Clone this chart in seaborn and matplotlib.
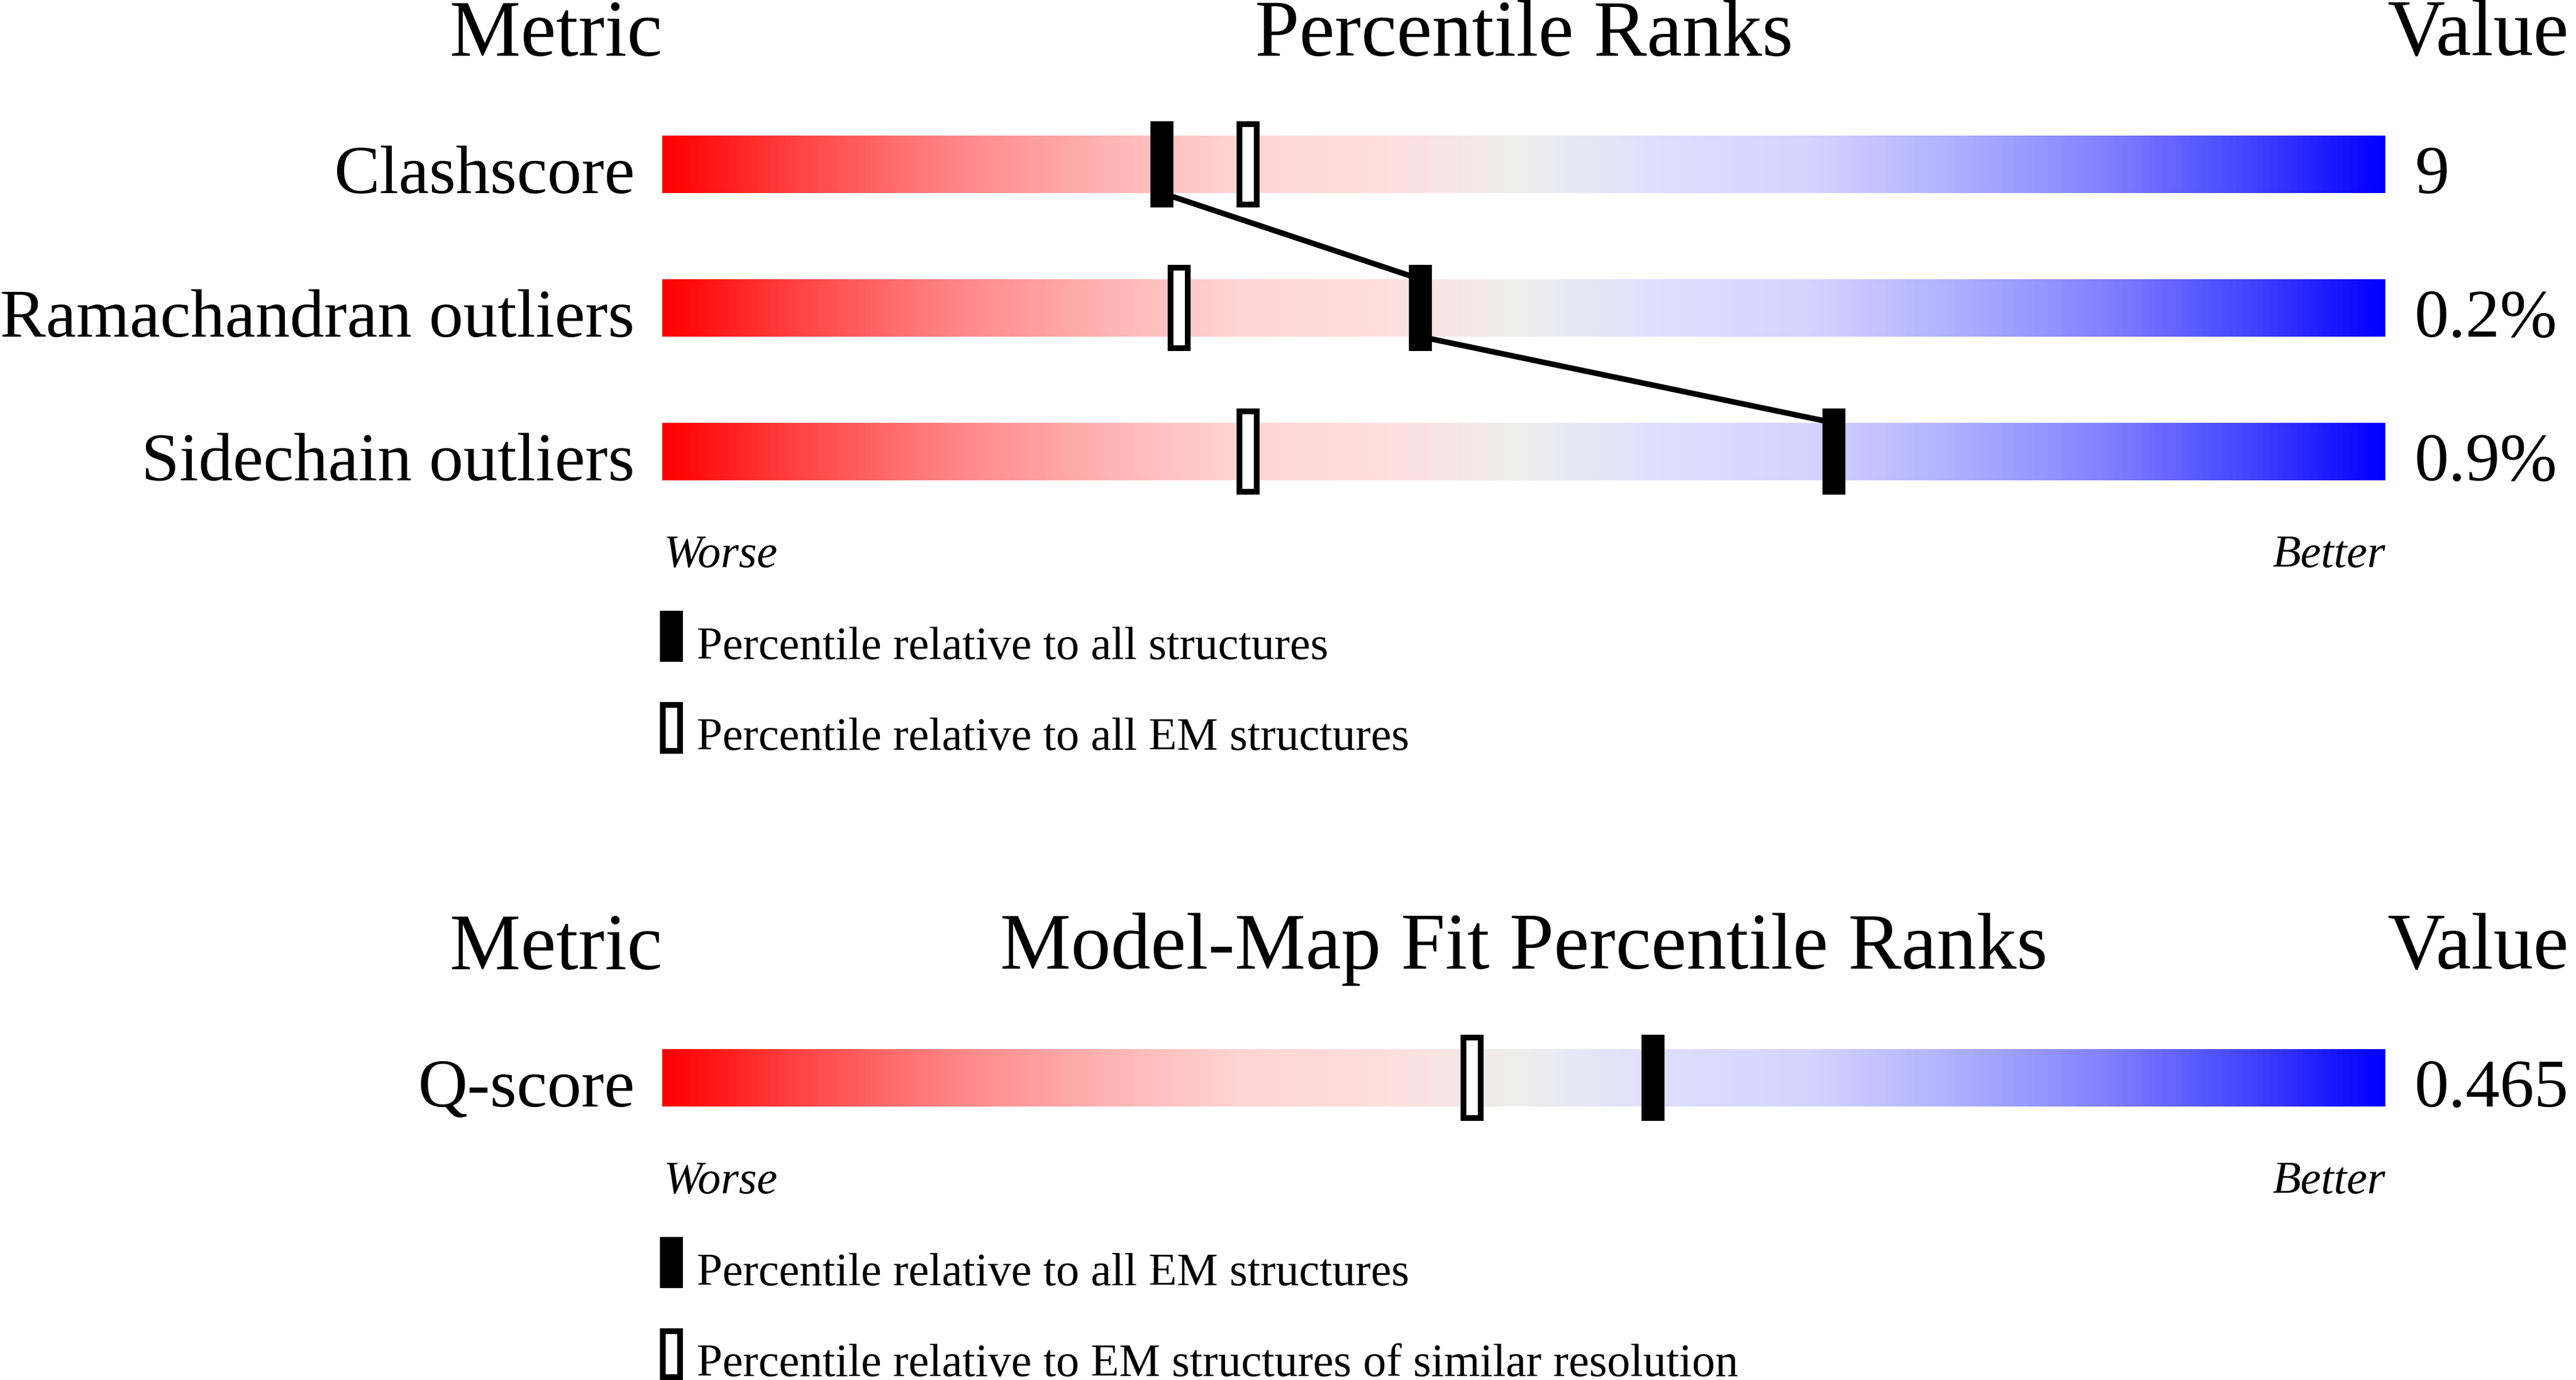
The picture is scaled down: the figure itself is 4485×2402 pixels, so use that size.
import numpy as np
import matplotlib
matplotlib.use("Agg")
import matplotlib.pyplot as plt
from matplotlib.colors import LinearSegmentedColormap
import seaborn as sns

# ---------------- data ----------------
metrics = ["Clashscore", "Ramachandran outliers", "Sidechain outliers"]
metric_values = ["9", "0.2%", "0.9%"]
pct_all = [29, 44, 68]          # filled marker: relative to all structures
pct_em = [34, 30, 34]           # open marker: relative to all EM structures
legend1 = ["Percentile relative to all structures",
           "Percentile relative to all EM structures"]
title1 = "Percentile Ranks"

fit_metrics = ["Q-score"]
fit_values = ["0.465"]
fit_pct_em = [57.5]             # filled marker: relative to all EM structures
fit_pct_similar = [47]          # open marker: EM structures of similar resolution
legend2 = ["Percentile relative to all EM structures",
           "Percentile relative to EM structures of similar resolution"]
title2 = "Model-Map Fit Percentile Ranks"

header_left, header_right = "Metric", "Value"
worse_label, better_label = "Worse", "Better"

grad_pos = [0, .083, .167, .25, .333, .42, .5, .58, .667, .75, .833, .917, 1]
grad_colors = ["#FF0000", "#FF4848", "#FF8585", "#FFB0B0", "#FFD4D4", "#FFDEDE",
               "#EEEEEE", "#DEDEFF", "#D4D4FF", "#B0B0FF", "#8585FF", "#4848FF",
               "#0000FF"]

# ---------------- style ----------------
sns.set_theme(style="white")
plt.rcParams["font.family"] = ["Liberation Serif", "DejaVu Serif"]
plt.rcParams["text.color"] = "black"

W, H, DPI = 4485, 2402, 100
X0, X1 = 1153, 4153            # pixel x of percentile 0 and 100
PXU = (X1 - X0) / 100.0        # pixels per percentile unit
ROW = 250.0                    # pixels per row unit

cmap = LinearSegmentedColormap.from_list("slider", list(zip(grad_pos, grad_colors)))
grad = np.linspace(0, 1, 1200).reshape(1, -1)

fig = plt.figure(figsize=(W / DPI, H / DPI), dpi=DPI)
fig.patch.set_facecolor("white")

FS_HEAD, FS_LABEL, FS_SMALL = 100, 86, 58


def draw_panel(center0_px, names, vals, p_fill, p_open, legend_labels, title, connect):
    ax = fig.add_axes([0, 0, 1, 1])
    ax.axis("off")
    n = len(names)
    rows = np.arange(n)

    # gradient sliders
    for r in rows:
        ax.imshow(grad, aspect="auto", cmap=cmap, interpolation="bilinear",
                  extent=(0, 100, r + 0.2, r - 0.2), zorder=1)

    # connecting line between filled markers
    if connect and n > 1:
        xs, ys = [], []
        for i, r in enumerate(rows):
            if i > 0:
                xs.append(p_fill[i]); ys.append(r - 0.2)
            if i < n - 1:
                xs.append(p_fill[i]); ys.append(r + 0.2)
        sns.lineplot(x=xs, y=ys, sort=False, estimator=None, color="black",
                     linewidth=7, ax=ax, zorder=3)

    # markers
    ax.bar(p_fill, 0.6, width=40 / PXU, bottom=rows - 0.3, color="black",
           linewidth=0, zorder=5)
    ax.bar(p_open, 0.56, width=30 / PXU, bottom=rows - 0.28, facecolor="white",
           edgecolor="black", linewidth=7.2, zorder=5)

    # labels
    for r, name, v in zip(rows, names, vals):
        ax.text(-48 / PXU, r + 0.2, name, ha="right", va="baseline",
                fontsize=FS_LABEL, color="black")
        ax.text(100 + 51 / PXU, r + 0.2, v, ha="left", va="baseline",
                fontsize=FS_LABEL, color="black")

    # headers
    ax.text(0, -0.758, header_left, ha="right", va="baseline", fontsize=FS_HEAD, color="black")
    ax.text(50, -0.758, title, ha="center", va="baseline", fontsize=FS_HEAD, color="black")
    ax.text(100 + 3 / PXU, -0.758, header_right, ha="left", va="baseline",
            fontsize=FS_HEAD, color="black")

    last = rows[-1]
    ax.text(0.1, last + 0.802, worse_label, ha="left", va="baseline",
            fontsize=FS_SMALL, style="italic", color="black")
    ax.text(100, last + 0.802, better_label, ha="right", va="baseline",
            fontsize=FS_SMALL, style="italic", color="black")

    # legend
    ax.bar([0.533], [0.356], width=40 / PXU, bottom=[last + 1.106], color="black",
           linewidth=0, zorder=5)
    ax.bar([0.533], [0.32], width=30 / PXU, bottom=[last + 1.764], facecolor="white",
           edgecolor="black", linewidth=7.2, zorder=5)
    ax.text(2.0, last + 1.446, legend_labels[0], ha="left", va="baseline",
            fontsize=FS_SMALL, color="black")
    ax.text(2.0, last + 2.078, legend_labels[1], ha="left", va="baseline",
            fontsize=FS_SMALL, color="black")

    ax.set_xlim(-X0 / PXU, (W - X0) / PXU)
    ax.set_ylim((H - center0_px) / ROW, (0 - center0_px) / ROW)
    return ax


draw_panel(286, metrics, metric_values, pct_all, pct_em, legend1, title1, True)
draw_panel(1876, fit_metrics, fit_values, fit_pct_em, fit_pct_similar, legend2, title2, False)

fig.savefig("out.png", dpi=DPI, facecolor="white")
